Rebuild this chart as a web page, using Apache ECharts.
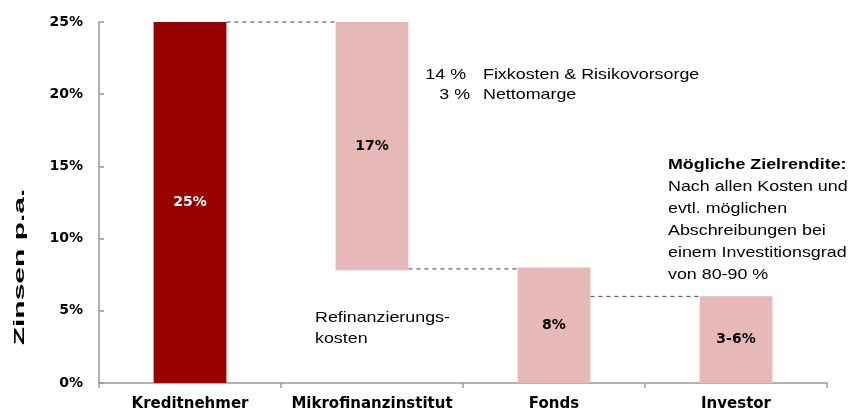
<!DOCTYPE html>
<html>
<head>
<meta charset="utf-8">
<script src="https://cdn.jsdelivr.net/npm/echarts@6/dist/echarts.min.js"></script>
<style>
html,body{margin:0;padding:0;background:#fff;}
#c{width:850px;height:412px;}
</style>
</head>
<body>
<div id="c"></div>
<script>
// ---- data ----
var categories = ['Kreditnehmer', 'Mikrofinanzinstitut', 'Fonds', 'Investor'];
var baseValues = [0, 7.8, 0, 0];          // invisible offset (waterfall)
var barValues = [25, 17.2, 8, 6];         // visible bar heights
var barLabels = ['25%', '17%', '8%', '3-6%'];
var barColors = ['#990000', '#E6B8B7', '#E6B8B7', '#E6B8B7'];
var labelColors = ['#ffffff', '#000000', '#000000', '#000000'];
var connectorLevels = [[0, 25], [1, 7.9], [2, 6]]; // [from category index, level]
var yTicks = [0, 5, 10, 15, 20, 25];

var FONT = 'Liberation Sans, Arial, sans-serif';
var BFONT = 'DejaVu Sans, Liberation Sans, sans-serif';
var BARW = 0.4;
var SX = 1.19;

var chart = echarts.init(document.getElementById('c'), null, {renderer: 'canvas'});

function txt(x, y, s, opts) {
  var st = {text: s, fill: '#000', font: (opts.bold ? 'bold ' : '') + '15px ' + FONT,
    textAlign: opts.align || 'left', textVerticalAlign: opts.valign || 'middle'};
  if (opts.lineHeight) st.lineHeight = opts.lineHeight;
  return {type: 'text', x: x, y: y, scaleX: SX, scaleY: 1, style: st};
}

var option = {
  animation: false,
  backgroundColor: '#ffffff',
  grid: {left: 99, right: 23, top: 22, bottom: 29, containLabel: false},
  xAxis: {
    type: 'category',
    data: categories,
    boundaryGap: true,
    axisLine: {lineStyle: {color: '#999999', width: 1.5}},
    axisTick: {show: true, length: 5, inside: false, interval: 0, lineStyle: {color: '#999999', width: 1.5}},
    axisLabel: {color: '#000', fontFamily: BFONT, fontWeight: 'bold', fontSize: 15, margin: 14, interval: 0, hideOverlap: false}
  },
  yAxis: {
    type: 'value',
    min: yTicks[0],
    max: yTicks[yTicks.length - 1],
    interval: 5,
    axisLine: {show: true, lineStyle: {color: '#999999', width: 1.5}},
    axisTick: {show: true, inside: true, length: 5, lineStyle: {color: '#999999', width: 1.5}},
    splitLine: {show: false},
    axisLabel: {color: '#000', fontFamily: BFONT, fontWeight: 'bold', fontSize: 14, margin: 16,
      formatter: function (v) { return v + '%'; }}
  },
  series: [
    {
      type: 'bar',
      stack: 'w',
      barWidth: (BARW * 100) + '%',
      silent: true,
      itemStyle: {color: 'rgba(0,0,0,0)'},
      data: baseValues
    },
    {
      type: 'bar',
      stack: 'w',
      barWidth: (BARW * 100) + '%',
      data: barValues.map(function (v, i) {
        return {
          value: v,
          itemStyle: {color: barColors[i]},
          label: {
            show: true,
            position: 'inside',
            formatter: barLabels[i],
            color: labelColors[i],
            fontFamily: BFONT,
            fontWeight: 'bold',
            fontSize: 14
          }
        };
      })
    },
    {
      type: 'custom',
      silent: true,
      data: connectorLevels,
      renderItem: function (params, api) {
        var i = api.value(0), lvl = api.value(1);
        var p1 = api.coord([i, lvl]);
        var p2 = api.coord([i + 1, lvl]);
        var bw = api.size([1, 0])[0] * BARW;
        return {
          type: 'line',
          shape: {x1: p1[0] + bw / 2, y1: p1[1], x2: p2[0] - bw / 2, y2: p2[1]},
          style: {stroke: '#404040', lineWidth: 1, lineDash: [4, 4]}
        };
      }
    }
  ],
  graphic: [
    {type: 'text', x: 20, y: 267, rotation: Math.PI / 2, scaleX: 2.0, scaleY: 1,
      style: {text: 'Zinsen p.a.', fill: '#000', font: 'bold 15px ' + FONT, textAlign: 'center', textVerticalAlign: 'middle'}},
    txt(466, 75, '14 %', {align: 'right'}),
    txt(483, 75, 'Fixkosten & Risikovorsorge', {}),
    txt(470, 95, '3 %', {align: 'right'}),
    txt(483, 95, 'Nettomarge', {}),
    txt(668, 165, 'Mögliche Zielrendite:', {bold: true}),
    txt(668, 176, 'Nach allen Kosten und\nevtl. möglichen\nAbschreibungen bei\neinem Investitionsgrad\nvon 80-90 %', {valign: 'top', lineHeight: 22}),
    txt(315, 307, 'Refinanzierungs-\nkosten', {valign: 'top', lineHeight: 21})
  ]
};
chart.setOption(option);
</script>
</body>
</html>
